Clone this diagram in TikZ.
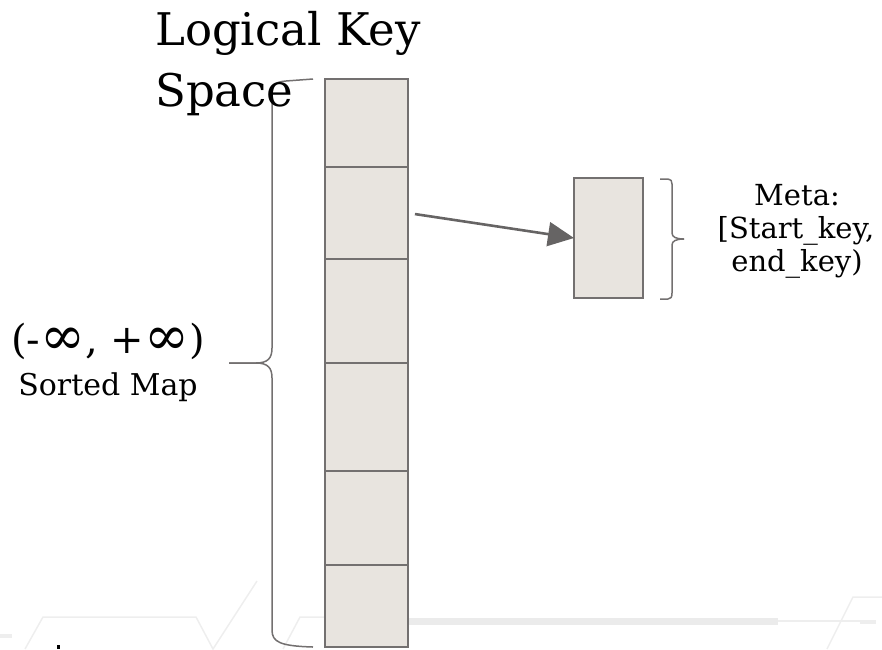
\documentclass[tikz,border=0pt]{standalone}
\usepackage{fontspec}
\setmainfont{DejaVu Serif}
\usetikzlibrary{arrows.meta}

\definecolor{cellfill}{HTML}{E8E4DF}
\definecolor{edge}{HTML}{737070}
\definecolor{arrowgray}{HTML}{666464}
\definecolor{faint}{HTML}{EEEEEE}
\definecolor{faintband}{HTML}{EBEBEB}

% a wider infinity sign for the range label
\newcommand\wideinf{\raisebox{-1.5pt}{\scalebox{1.35}{∞}}}

\begin{document}
\begin{tikzpicture}[x=1pt,y=-1pt,
  cell/.style={draw=edge, fill=cellfill, line width=1.8pt, minimum width=83pt,
    inner sep=0pt, outer sep=0pt, anchor=north west},
  brace/.style={draw=edge, line width=1.5pt, line join=round},
  link/.style={draw=arrowgray, line width=2.6pt, -{Triangle[length=26pt,width=24pt]}},
  bigtext/.style={inner sep=0pt, font=\fontsize{45}{54}\selectfont},
  rangetext/.style={inner sep=0pt, font=\fontsize{40}{48}\selectfont},
  midtext/.style={inner sep=0pt, font=\fontsize{30}{36}\selectfont},
  metatext/.style={inner sep=0pt, font=\fontsize{29}{33}\selectfont},
  watermark/.style={draw=faint, line width=1.5pt}
]
\useasboundingbox (0,0) rectangle (882,649);

% faint template lines along the bottom edge
\draw[watermark, line width=3.5pt] (0,636) -- (12,636);
\draw[watermark] (25,649) -- (43,617) -- (196,617) -- (213,649) -- (257,581);
\draw[watermark] (283,649) -- (300,617) -- (325,617);
\draw[draw=faintband, line width=7pt] (408,621) -- (778,621);
\draw[watermark] (778,621) -- (860,621);
\draw[watermark, line width=3.5pt] (860,622) -- (876,622);
\draw[watermark] (827,649) -- (853,597) -- (882,597);

% key space column, split into ranges
\node[cell, minimum height=88pt]  (c1) at (325,79)  {};
\node[cell, minimum height=92pt]  (c2) at (325,167) {};
\node[cell, minimum height=104pt] (c3) at (325,259) {};
\node[cell, minimum height=108pt] (c4) at (325,363) {};
\node[cell, minimum height=94pt]  (c5) at (325,471) {};
\node[cell, minimum height=82pt]  (c6) at (325,565) {};

% one range with its metadata
\node[cell, minimum width=69pt, minimum height=120pt] (meta) at (574,178) {};
\draw[link, shorten <=7pt] (c2.east) -- (meta.west);

% left brace spanning the whole column
\draw[brace] (313,79) -- (286,81) .. controls (273,82) and (272,86) .. (272,96)
  -- (272,348) .. controls (272,358) and (268,363) .. (256,363) -- (229,363);
\draw[brace] (229,363) -- (256,363) .. controls (268,363) and (272,368) .. (272,378)
  -- (272,630) .. controls (272,642) and (280,646) .. (313,647);

% right brace beside the range box
\draw[brace] (660,179) -- (668,179) .. controls (671,179) and (672,181) .. (672,184)
  -- (672,233) .. controls (672,237) and (676,239) .. (684,239);
\draw[brace] (684,239) .. controls (676,239) and (672,241) .. (672,245)
  -- (672,293) .. controls (672,297) and (671,299) .. (668,299) -- (660,299);

% labels
\node[bigtext, anchor=base west] (title1) at (155,45)  {Logical Key};
\node[bigtext, anchor=base west] (title2) at (155,106) {Space};
\node[rangetext, anchor=base] (range) at (108,353) {(-\wideinf, +\wideinf)};
\node[midtext, anchor=base] (sorted) at (108,395) {Sorted Map};
\node[metatext, anchor=base] (meta1) at (797,205) {Meta:};
\node[metatext, anchor=base] (meta2) at (796,238) {[Start\_key,};
\node[metatext, anchor=base] (meta3) at (797,271) {end\_key)};

% small mark at the lower edge
\fill (57,645) rectangle (59.5,649);
\end{tikzpicture}
\end{document}
